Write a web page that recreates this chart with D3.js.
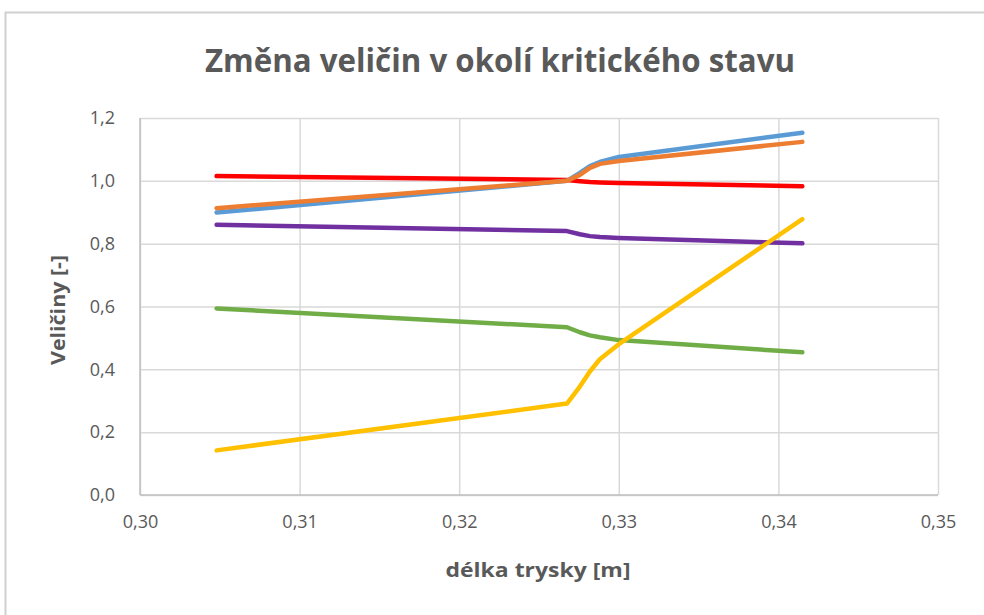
<!DOCTYPE html>
<html>
<head>
<meta charset="utf-8">
<script src="https://cdn.jsdelivr.net/npm/d3@7"></script>
<style>
	body { margin: 0; background: #fff; }
	text { font-family: "Open Sans", "Noto Sans", sans-serif; fill: #595959; }
</style>
</head>
<body>
<div id="chart"></div>
<script>
// x positions along the nozzle [m]
const xValues = [0.3048, 0.32675, 0.32756, 0.32819, 0.32881, 0.33000, 0.3415]

// series
const red = [1.015, 1.003, 0.999, 0.996, 0.995, 0.993, 0.983]
const blue = [0.899, 1.0, 1.025, 1.047, 1.060, 1.076, 1.153]
const orange = [0.913, 1.0, 1.019, 1.041, 1.054, 1.063, 1.124]
const purple = [0.860, 0.840, 0.830, 0.824, 0.821, 0.818, 0.801]
const green = [0.594, 0.534, 0.518, 0.508, 0.502, 0.493, 0.454]
const yellow = [0.142, 0.291, 0.345, 0.393, 0.432, 0.480, 0.878]

const xTicks = [0.30, 0.31, 0.32, 0.33, 0.34, 0.35]
const yTicks = [0, 0.2, 0.4, 0.6, 0.8, 1.0, 1.2]

const seriesList = [
	{ name: 'red', values: red, color: '#FF0000' },
	{ name: 'blue', values: blue, color: '#5B9BD5' },
	{ name: 'orange', values: orange, color: '#ED7D31' },
	{ name: 'purple', values: purple, color: '#7030A0' },
	{ name: 'green', values: green, color: '#70AD47' },
	{ name: 'yellow', values: yellow, color: '#FFC000' }
]

const W = 984, H = 615
const margin = { top: 118, right: 46, bottom: 120, left: 140 }
const width = W - margin.left - margin.right
const height = H - margin.top - margin.bottom

const svg = d3.select('#chart').append('svg')
	.attr('width', W)
	.attr('height', H)

// chart frame
svg.append('rect')
	.attr('x', 5.5).attr('y', 12.5)
	.attr('width', W).attr('height', H)
	.attr('fill', 'none')
	.attr('stroke', '#d0d0d0')
	.attr('stroke-width', 2)

const g = svg.append('g')
	.attr('transform', `translate(${margin.left},${margin.top})`)

/**
 * Scales
 */
const x = d3.scaleLinear().domain([0.30, 0.35]).range([0, width])
const y = d3.scaleLinear().domain([0, 1.2]).range([height, 0])
const fmtX = v => d3.format('.2f')(v).replace('.', ',')
const fmtY = v => d3.format('.1f')(v).replace('.', ',')

/**
 * Grid
 */
g.append('g')
	.call(d3.axisLeft(y).tickValues(yTicks).tickSize(-width).tickFormat(''))
	.call(a => a.select('.domain').remove())
	.selectAll('line').attr('stroke', '#d9d9d9').attr('stroke-width', 1.5)

g.append('g')
	.attr('transform', `translate(0,${height})`)
	.call(d3.axisBottom(x).tickValues(xTicks).tickSize(-height).tickFormat(''))
	.call(a => a.select('.domain').remove())
	.selectAll('line').attr('stroke', '#d9d9d9').attr('stroke-width', 1.5)

// axis lines
g.append('line')
	.attr('x1', 0).attr('x2', 0).attr('y1', 0).attr('y2', height)
	.attr('stroke', '#bfbfbf').attr('stroke-width', 1.5)
g.append('line')
	.attr('x1', 0).attr('x2', width).attr('y1', height).attr('y2', height)
	.attr('stroke', '#bfbfbf').attr('stroke-width', 1.5)

/**
 * Tick labels
 */
const yAxis = g.append('g')
	.call(d3.axisLeft(y).tickValues(yTicks).tickSize(0).tickPadding(25).tickFormat(fmtY))
yAxis.select('.domain').remove()
yAxis.selectAll('text').attr('font-size', 18).attr('font-family', null)

const xAxis = g.append('g')
	.attr('transform', `translate(0,${height})`)
	.call(d3.axisBottom(x).tickValues(xTicks).tickSize(0).tickPadding(20).tickFormat(fmtX))
xAxis.select('.domain').remove()
xAxis.selectAll('text').attr('font-size', 18).attr('font-family', null)

/**
 * Lines
 */
const line = d3.line()
	.x((d, i) => x(xValues[i]))
	.y(d => y(d))

g.selectAll('.series')
	.data(seriesList)
	.enter().append('path')
	.attr('class', 'series')
	.attr('fill', 'none')
	.attr('stroke', d => d.color)
	.attr('stroke-width', 4.5)
	.attr('stroke-linecap', 'round')
	.attr('stroke-linejoin', 'round')
	.attr('d', d => line(d.values))

/**
 * Titles
 */
svg.append('text')
	.attr('x', 500).attr('y', 72)
	.attr('text-anchor', 'middle')
	.attr('font-size', 32)
	.attr('font-weight', 'bold')
	.attr('textLength', 590)
	.attr('lengthAdjust', 'spacingAndGlyphs')
	.text('Změna veličin v okolí kritického stavu')

svg.append('text')
	.attr('transform', 'translate(65,310) rotate(-90)')
	.attr('text-anchor', 'middle')
	.attr('font-size', 20)
	.attr('font-weight', 'bold')
	.attr('textLength', 110)
	.attr('lengthAdjust', 'spacingAndGlyphs')
	.text('Veličiny [-]')

svg.append('text')
	.attr('x', 538).attr('y', 577)
	.attr('text-anchor', 'middle')
	.attr('font-size', 20)
	.attr('font-weight', 'bold')
	.attr('textLength', 185)
	.attr('lengthAdjust', 'spacingAndGlyphs')
	.text('délka trysky [m]')
</script>
</body>
</html>
